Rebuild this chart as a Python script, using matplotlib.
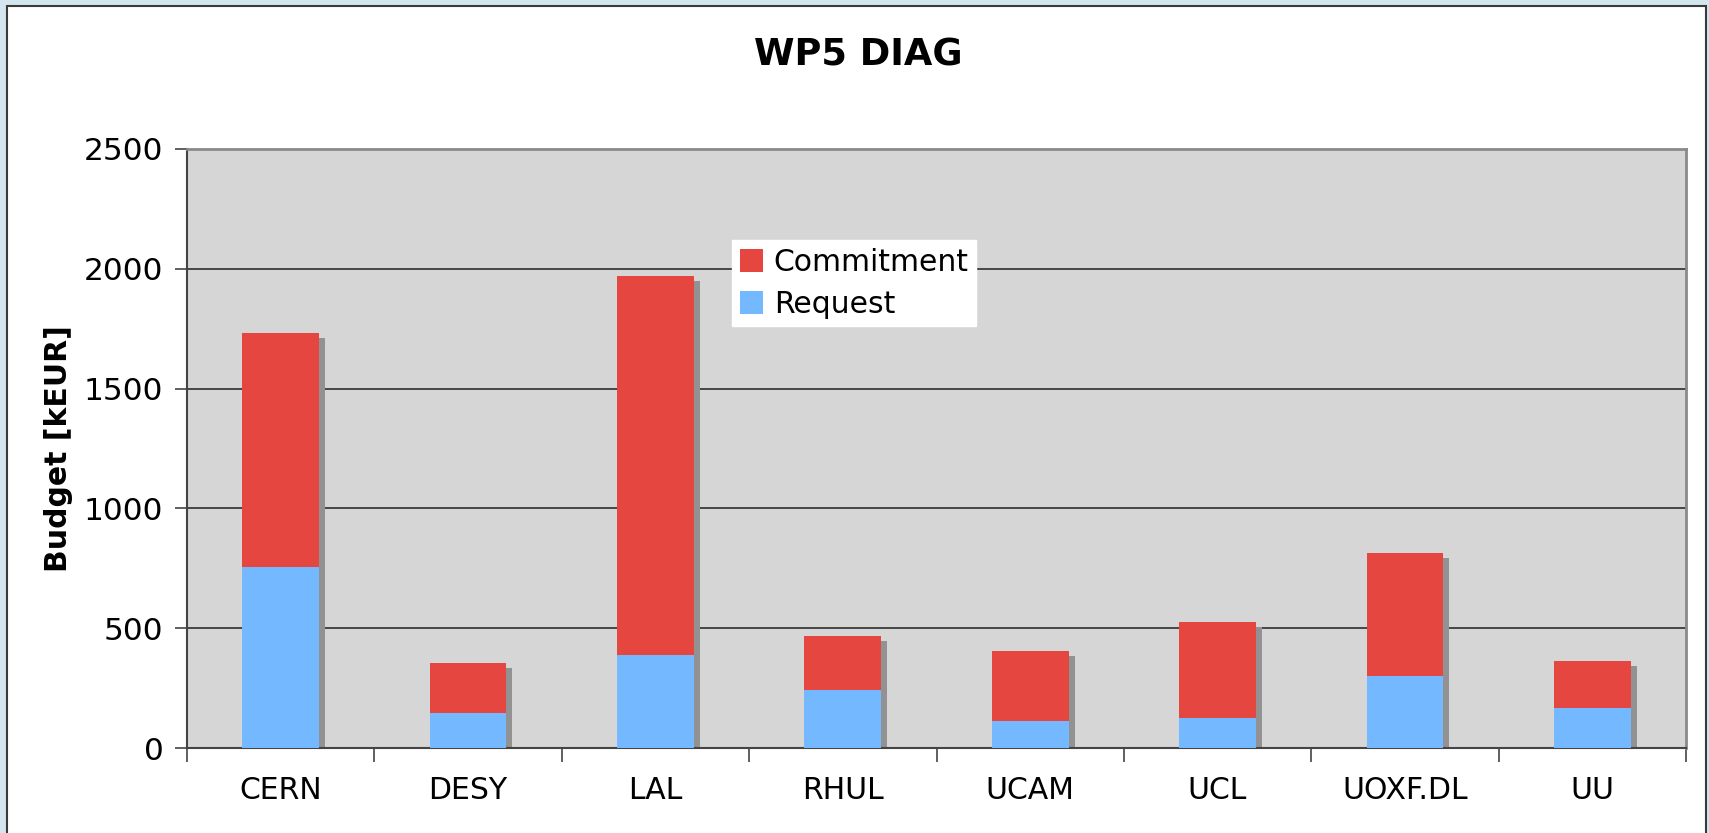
import matplotlib
matplotlib.use("Agg")
import matplotlib.pyplot as plt
import matplotlib.transforms as mtransforms
from matplotlib.patches import Rectangle
import numpy as np

# data (kEUR)
partners = ['CERN', 'DESY', 'LAL', 'RHUL', 'UCAM', 'UCL', 'UOXF.DL', 'UU']
request = [755, 146, 387, 241, 114, 127, 300, 167]
total = [1732, 355, 1972, 469, 405, 524, 814, 363]
commitment = [t - r for t, r in zip(total, request)]

red = '#e5463f'
blue = '#74b9ff'

fig = plt.figure(figsize=(17.09, 8.33), dpi=100)
fig.patch.set_facecolor('#d3e5ee')
# white chart panel with a dark frame
fig.patches.append(Rectangle((7 / 1709, -0.05), 1699 / 1709, 1 - 6 / 833 + 0.05,
                             transform=fig.transFigure, facecolor='white',
                             edgecolor='#3a3a3a', linewidth=1.5, zorder=-1))

ax = fig.add_axes([187 / 1709, 1 - 748 / 833, 1499 / 1709, 599 / 833])
ax.set_zorder(1)
ax.set_facecolor('#d6d6d6')

x = np.arange(len(partners))
w = 0.41

# drop shadow behind each stacked bar
shadow = ax.transData + mtransforms.ScaledTranslation(6 / 100, -5 / 100, fig.dpi_scale_trans)
ax.bar(x, total, w, color='#929292', transform=shadow, zorder=2)
ax.bar(x, request, w, color=blue, label='Request', zorder=3)
ax.bar(x, commitment, w, bottom=request, color=red, label='Commitment', zorder=3)

ax.set_xlim(-0.5, len(partners) - 0.5)
ax.set_ylim(0, 2500)
ax.set_yticks([0, 500, 1000, 1500, 2000, 2500])
ax.yaxis.grid(True, color='#3a3a3a', linewidth=1.3, zorder=1)
ax.set_axisbelow(True)

ax.set_xticks(np.arange(len(partners) + 1) - 0.5)
ax.set_xticklabels([])
ax.set_xticks(x, minor=True)
ax.set_xticklabels(partners, minor=True)
ax.tick_params(axis='x', which='minor', length=0, pad=20, labelsize=21.5)
ax.tick_params(axis='x', which='major', length=10, width=1.2, color='#444')
ax.tick_params(axis='y', length=9, width=1.2, color='#444', labelsize=22.5, pad=8)

for s in ['left', 'bottom']:
    ax.spines[s].set_color('#444')
    ax.spines[s].set_linewidth(1.5)
for s in ['top', 'right']:
    ax.spines[s].set_color('#8a8a8a')
    ax.spines[s].set_linewidth(2)

ax.set_ylabel('Budget [kEUR]', fontsize=21.5, fontweight='bold', labelpad=8)
fig.text(858 / 1709, 1 - 55 / 833, 'WP5 DIAG', fontsize=26.5, fontweight='bold',
         ha='center', va='center')

handles, labels = ax.get_legend_handles_labels()
leg = ax.legend(handles[::-1], labels[::-1], loc='upper left',
                bbox_to_anchor=(0.3636, 0.848), borderaxespad=0, fontsize=21.5,
                frameon=True, fancybox=False, framealpha=1, edgecolor='white',
                handlelength=0.8, handleheight=0.8, handletextpad=0.35,
                labelspacing=0.45, borderpad=0.25)

fig.savefig('out.png', dpi=100, facecolor=fig.get_facecolor())
